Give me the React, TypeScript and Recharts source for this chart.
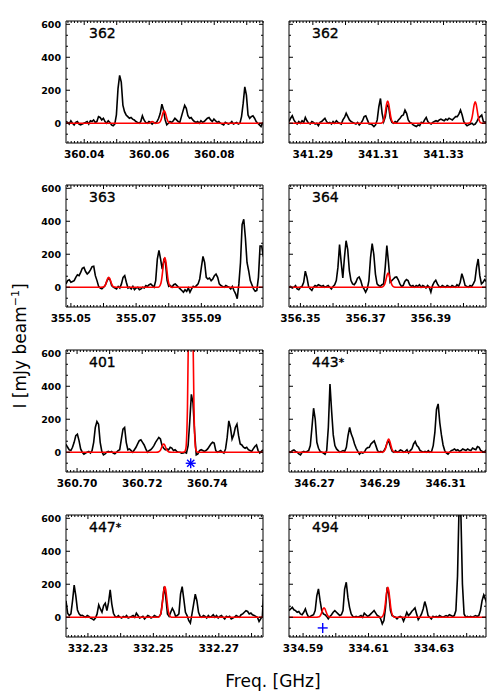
import React from "react";
import { ComposedChart, Line, Scatter, XAxis, YAxis } from "recharts";

// panel labels, row by row (left, right)
const panelLabels = ["362", "362", "363", "364", "401", "443*", "447*", "494"];

// frequency window of each panel [GHz]
const freqLo = [360.0344, 341.2827, 355.0485, 356.3465, 360.6966, 346.2622, 332.2233, 334.5857];
const freqHi = [360.095, 341.343, 355.1089, 356.4069, 360.7571, 346.3223, 332.2835, 334.6459];

// labelled frequency ticks
const freqLabels = [
  [360.04, 360.06, 360.08],
  [341.29, 341.31, 341.33],
  [355.05, 355.07, 355.09],
  [356.35, 356.37, 356.39],
  [360.7, 360.72, 360.74],
  [346.27, 346.29, 346.31],
  [332.23, 332.25, 332.27],
  [334.59, 334.61, 334.63],
];

const intensityLabels = [0, 200, 400, 600];

// channel width of the observed spectra [GHz]
const chanWidth = 0.0005;

// observed spectra [mJy/beam], one value per channel from freqLo
const spec1 = [
  10, 5, -5, 15, 0, -10, 5, 10, -5, -10,
  -5, 0, 5, 10, -5, 15, 10, 20, 5, 10,
  40, 35, 20, 30, 10, 0, 15, 5, -10, -15,
  -5, 50, 210, 290, 250, 110, 70, 50, 40, 30,
  35, 25, 20, 10, 5, 0, 10, 45, 20, 5,
  0, 10, 5, -5, 5, 0, 10, 30, 60, 115,
  80, 20, -10, 0, 10, 5, 15, 30, 20, 10,
  5, 40, 75, 108, 90, 45, 30, 35, 20, 10,
  5, 10, 0, 15, 5, 10, 20, 30, 35, 20,
  10, 25, 15, 5, 10, 0, -5, -10, 5, 0,
  -5, 0, 10, -5, 0, 5, -5, 0, 40, 120,
  220, 170, 50, 30, 40, 45, 30, 10, 0, -10,
  -20, 5,
];
const spec2 = [
  10, 30, 45, 20, 5, -5, 10, 0, 15, 5,
  35, 15, 0, -5, 10, 5, -5, 0, -15, 5,
  10, 20, 30, 10, 0, 5, -5, 10, 0, 15,
  5, 0, -5, 20, 35, 60, 40, 20, 10, 5,
  0, -5, 5, -10, 0, 15, 40, 45, 20, -5,
  -5, -10, -20, -10, 20, 100, 150, 60, 10, 40,
  110, 100, 30, 5, 0, 10, 5, 20, 30, 45,
  50, 80, 60, 20, 5, 0, -10, -15, -20, -10,
  -15, 5, 0, 20, 35, 10, 0, -5, 5, 10,
  15, 10, 20, 25, 20, 15, 25, 20, 30, 25,
  20, 30, 40, 40, 55, 80, 50, 10, -5, -15,
  -10, -5, 0, -10, -5, 10, 30, 40, 50, 10,
  5, 10,
];
const spec3 = [
  20, 40, 45, 30, 35, 40, 60, 75, 70, 90,
  115, 120, 95, 80, 90, 105, 125, 127, 70, 40,
  5, -5, -10, 0, 10, 35, 55, 45, 10, 0,
  -5, -10, 5, -5, 20, 60, 70, 30, -5, 0,
  -10, 5, -15, -5, 0, -15, -10, 0, -5, 10,
  5, 15, 20, 10, 0, 40, 170, 223, 170, 110,
  165, 150, 40, 5, 10, 0, 15, 20, 10, 0,
  -10, -20, -30, -15, -25, -5, -30, -10, 5, 0,
  10, 20, 50, 120, 187, 150, 60, 50, 55, 40,
  50, 70, 80, 60, 20, 10, 5, 0, 10, 5,
  0, -10, 5, -20, -40, -70, 20, 150, 380, 412,
  300, 150, 100, 40, 15, -10, -25, -20, 60, 250,
  250, 185,
];
const spec4 = [
  0, 5, -5, 0, 10, -10, -15, 0, 5, 30,
  97, 60, 5, -10, -20, 0, 10, 5, 15, 10,
  5, 10, 0, 5, 10, 0, -10, 5, 15, 40,
  120, 258, 150, 56, 180, 282, 230, 100, 40, 20,
  15, 30, 55, 62, 40, 5, -10, -30, -10, 40,
  180, 264, 200, 80, 20, 10, 5, 15, 20, 120,
  252, 150, 30, 40, 50, 60, 62, 45, 20, 5,
  10, 35, 46, 40, 15, 5, 10, 0, 10, 5,
  15, 0, 10, 5, -5, 10, 0, -30, 10, 30,
  42, 20, 5, 0, 10, 5, 0, 10, 5, 0,
  10, 5, 0, 15, 5, 30, 82, 50, 10, 5,
  0, 10, 5, 20, 40, 120, 171, 70, 20, 30,
  46, 35,
];
const spec5 = [
  48, 30, 14, 10, 30, 60, 100, 109, 70, 20,
  0, -12, -5, 0, 5, -5, 10, 60, 150, 186,
  170, 60, 5, -16, -10, 0, 5, 0, 5, -5,
  -10, 0, 10, 15, 80, 140, 150, 60, 15, 20,
  10, 0, 15, 30, 50, 70, 75, 60, 44, 20,
  0, 10, 15, 25, 40, 60, 75, 89, 80, 40,
  24, 15, 20, 14, 30, 25, 10, 15, 5, 0,
  0, -6, -5, 0, -5, 40, 185, 351, 300, 120,
  -16, -10, 10, 15, 10, 5, 10, 20, 35, 50,
  60, 55, 10, 0, 5, 10, 0, -5, 20, 90,
  190, 150, 80, 105, 150, 170, 100, 50, 44, 30,
  24, 30, 15, 10, 5, 20, 35, 44, 10, -5,
  5, 15,
];
const spec6 = [
  5, 0, 10, 14, 5, 0, -10, -16, 0, 5,
  0, 5, 10, 40, 150, 267, 200, 60, 24, 5,
  0, -5, -12, 10, 150, 414, 250, 105, 40, 20,
  10, 0, 5, 10, 5, 30, 100, 150, 110, 85,
  50, 24, 5, -12, 0, -5, 0, 20, 28, 30,
  50, 60, 69, 40, 10, 0, 5, 0, 10, 30,
  60, 65, 30, 5, 0, 10, 0, 5, 14, 10,
  0, 5, 14, -5, 10, 20, 50, 65, 40, 30,
  10, 5, 0, 5, 0, 10, 0, 5, 40, 120,
  260, 293, 180, 105, 44, 10, -5, -12, 0, 10,
  14, 20, 10, 15, 5, 10, 20, 15, 10, 20,
  14, 10, 25, 20, 15, 34, 30, 10, 5, 0,
  10, 5,
];
const spec7 = [
  100, 25, 10, 20, 100, 195, 130, 44, 20, 10,
  12, 5, 0, 10, 5, -5, -10, -16, -5, 20,
  75, 50, 30, 70, 85, 40, 90, 166, 80, 24,
  5, 0, 10, 0, -5, 5, 0, 10, -5, 0,
  5, 10, 0, 24, 10, -5, 0, 5, -10, 0,
  10, 5, -5, 0, 10, 5, 0, 5, 20, 100,
  186, 120, 20, 5, 30, 54, 35, 5, 10, 20,
  140, 186, 110, 30, 10, -20, -36, 20, 80, 140,
  100, 30, 5, 0, 10, 5, -5, 10, 0, 5,
  15, 0, 10, -5, 5, 10, 0, -10, 5, 0,
  5, -10, -5, 0, 10, 5, 0, 15, 20, 30,
  40, 35, 20, 25, 15, 10, 5, 0, -26, -10,
  5, 185,
];
const spec8 = [
  40, 50, 60, 45, 40, 30, 35, 20, 15, 30,
  50, 20, 0, 5, 10, 15, 40, 130, 172, 100,
  40, 20, 15, 5, -10, 5, 15, 30, 40, 30,
  20, 10, 15, 40, 170, 212, 120, 60, 20, 5,
  0, 5, 0, 5, 10, 0, 25, 15, 5, 10,
  20, 30, 40, 25, 10, 5, -10, -40, -20, 60,
  182, 140, 40, 10, 5, 0, -10, 0, 5, 0,
  -24, 0, 30, 10, 20, 35, 45, 56, 20, -15,
  0, 20, 50, 95, 60, 10, 0, -10, 5, 0,
  5, 0, 10, 5, 0, 5, 10, 5, 15, 10,
  5, 10, 40, 250, 700, 650, 200, 20, 0, 5,
  0, 5, 0, 5, 10, 5, 10, 40, 100, 135,
  110, 80,
];

// model spectra (red): [freq GHz, mJy/beam]
const model1 = [
  [360.0344, 0], [360.06, 0], [360.0609, 10], [360.0618, 0], [360.0628, 1], [360.0634, 10],
  [360.0637, 24], [360.064, 46], [360.0643, 66], [360.0646, 75], [360.0649, 66], [360.0652, 46],
  [360.0655, 24], [360.0658, 10], [360.0664, 1], [360.0672, 0], [360.095, 0],
];
const model2 = [
  [341.2827, 0], [341.3105, 0], [341.3111, 2], [341.3117, 18], [341.312, 44], [341.3123, 82],
  [341.3126, 119], [341.3129, 135], [341.3132, 119], [341.3135, 82], [341.3138, 44], [341.3141, 18],
  [341.3147, 2], [341.3155, 0], [341.3372, 0], [341.3379, 1], [341.3385, 18], [341.3388, 42],
  [341.3391, 79], [341.3394, 114], [341.3397, 130], [341.34, 114], [341.3403, 79], [341.3406, 42],
  [341.3409, 18], [341.3415, 1], [341.3422, 0], [341.343, 0],
];
const model3 = [
  [355.0485, 0], [355.0592, 0], [355.0598, 1], [355.0604, 8], [355.0607, 20], [355.061, 37],
  [355.0613, 53], [355.0616, 60], [355.0619, 53], [355.0622, 37], [355.0625, 20], [355.0628, 8],
  [355.0634, 1], [355.064, 0], [355.0764, 0], [355.077, 2], [355.0776, 24], [355.0779, 58],
  [355.0782, 110], [355.0785, 158], [355.0788, 180], [355.0791, 158], [355.0794, 110], [355.0797, 58],
  [355.08, 24], [355.0806, 2], [355.0812, 0], [355.1089, 0],
];
const model4 = [
  [356.3465, 0], [356.3745, 0], [356.3751, 1], [356.3757, 12], [356.376, 28], [356.3763, 52],
  [356.3766, 76], [356.3769, 86], [356.3772, 76], [356.3775, 52], [356.3778, 28], [356.3781, 12],
  [356.3787, 1], [356.3793, 0], [356.4069, 0],
];
const model5 = [
  [360.6966, 0], [360.7242, 0], [360.7248, 0.5], [360.7254, 7], [360.7257, 16], [360.726, 30],
  [360.7263, 44], [360.7266, 50], [360.7269, 44], [360.7272, 30], [360.7275, 16], [360.7278, 7],
  [360.7284, 0.5], [360.729, 0], [360.7324, 0], [360.7329, 1], [360.7334, 22], [360.7339, 270],
  [360.73415, 650], [360.7344, 1220], [360.73465, 1760], [360.7349, 2000], [360.73515, 1760],
  [360.7354, 1220], [360.73565, 650], [360.7359, 270], [360.7364, 22], [360.7369, 1],
  [360.7374, 0], [360.7571, 0],
];
const model6 = [
  [346.2622, 0], [346.2902, 0], [346.2908, 1], [346.2914, 11], [346.2917, 26], [346.292, 49],
  [346.2923, 70], [346.2926, 80], [346.2929, 70], [346.2932, 49], [346.2935, 26], [346.2938, 11],
  [346.2944, 1], [346.295, 0], [346.3223, 0],
];
const model7 = [
  [332.2233, 0], [332.2511, 0], [332.2517, 2], [332.2523, 25], [332.2526, 60], [332.2529, 113],
  [332.2532, 164], [332.2535, 186], [332.2538, 164], [332.2541, 113], [332.2544, 60], [332.2547, 25],
  [332.2553, 2], [332.2559, 0], [332.2835, 0],
];
const model8 = [
  [334.5857, 0], [334.594, 0], [334.5946, 1], [334.5952, 8], [334.5955, 19], [334.5958, 35],
  [334.5961, 50], [334.5964, 57], [334.5967, 50], [334.597, 35], [334.5973, 19], [334.5976, 8],
  [334.5982, 1], [334.5988, 0], [334.6135, 0], [334.6141, 2], [334.6147, 25], [334.615, 59],
  [334.6153, 111], [334.6156, 160], [334.6159, 182], [334.6162, 160], [334.6165, 111], [334.6168, 59],
  [334.6171, 25], [334.6177, 2], [334.6183, 0], [334.6459, 0],
];

// blue markers: panel index, [freq, mJy/beam], symbol
const markerPanel = [4, 7];
const markerPoint = [
  [360.7349, -67],
  [334.596, -65],
];
const markerSymbol = ["star", "plus"];

const spectra = [spec1, spec2, spec3, spec4, spec5, spec6, spec7, spec8];
const models = [model1, model2, model3, model4, model5, model6, model7, model8];

const FONT = "DejaVu Sans, Verdana, sans-serif";
const Y_DOMAIN = [-120, 620];
const PLOT_W = 197;
const PLOT_H = 122;
const LEFT_PAD = 40;
const colLeft = [66, 289];
const rowTop = [21, 185, 350, 515];

function freqTicks(lo: number, hi: number) {
  const out: number[] = [];
  for (let k = Math.ceil(lo * 1000 - 1e-6); k <= Math.floor(hi * 1000 + 1e-6); k++) out.push(k / 1000);
  return out;
}

const yTicks: number[] = [];
for (let k = -1; k <= 9; k++) yTicks.push((k * 200) / 3);

function isMajorFreq(v: number) {
  return Math.round(v * 1000) % 10 === 0;
}
function isMajorY(v: number) {
  return intensityLabels.some((m) => Math.abs(m - v) < 1e-6);
}

function StarShape(props: any) {
  const { cx, cy } = props;
  const r = 5;
  const d = r * 0.72;
  return (
    <g stroke="#0000ff" strokeWidth={1.4}>
      <line x1={cx - r} x2={cx + r} y1={cy} y2={cy} />
      <line x1={cx} x2={cx} y1={cy - r} y2={cy + r} />
      <line x1={cx - d} x2={cx + d} y1={cy - d} y2={cy + d} />
      <line x1={cx - d} x2={cx + d} y1={cy + d} y2={cy - d} />
    </g>
  );
}

function PlusShape(props: any) {
  const { cx, cy } = props;
  const r = 5;
  return (
    <g stroke="#0000ff" strokeWidth={1.4}>
      <line x1={cx - r} x2={cx + r} y1={cy} y2={cy} />
      <line x1={cx} x2={cx} y1={cy - r} y2={cy + r} />
    </g>
  );
}

function Panel({ idx }: { idx: number }) {
  const col = idx % 2;
  const row = Math.floor(idx / 2);
  const lo = freqLo[idx];
  const hi = freqHi[idx];
  const labels = freqLabels[idx];
  const xt = freqTicks(lo, hi);
  const showY = col === 0;

  const specData = spectra[idx].map((v, i) => ({ f: lo + i * chanWidth, v }));
  const modelData = models[idx].map(([f, v]) => ({ f, v }));
  const mi = markerPanel.indexOf(idx);
  const markerData = mi >= 0 ? [{ f: markerPoint[mi][0], v: markerPoint[mi][1] }] : null;

  const bottomTick = (p: any) => {
    const v = p.payload.value;
    const len = isMajorFreq(v) ? 4 : 2;
    const lab = labels.find((m) => Math.abs(m - v) < 1e-6);
    return (
      <g>
        <line x1={p.x} x2={p.x} y1={p.y} y2={p.y - len} stroke="#000" />
        {lab !== undefined && (
          <text x={p.x} y={p.y + 15} textAnchor="middle" fontSize={10.5} fontWeight="bold" fontFamily={FONT} fill="#000">
            {lab.toFixed(2)}
          </text>
        )}
      </g>
    );
  };
  const topTick = (p: any) => {
    const len = isMajorFreq(p.payload.value) ? 4 : 2;
    return <line x1={p.x} x2={p.x} y1={p.y} y2={p.y + len} stroke="#000" />;
  };
  const leftTick = (p: any) => {
    const v = p.payload.value;
    const len = isMajorY(v) ? 4 : 2;
    const lab = intensityLabels.find((m) => Math.abs(m - v) < 1e-6);
    return (
      <g>
        <line x1={p.x} x2={p.x + len} y1={p.y} y2={p.y} stroke="#000" />
        {showY && lab !== undefined && (
          <text x={p.x - 5} y={p.y + 3.5} textAnchor="end" fontSize={9.5} fontWeight="bold" fontFamily={FONT} fill="#000">
            {lab}
          </text>
        )}
      </g>
    );
  };
  const rightTick = (p: any) => {
    const len = isMajorY(p.payload.value) ? 4 : 2;
    return <line x1={p.x} x2={p.x - len} y1={p.y} y2={p.y} stroke="#000" />;
  };

  return (
    <div style={{ position: "absolute", left: colLeft[col] - LEFT_PAD, top: rowTop[row] - 5 }}>
      <ComposedChart width={LEFT_PAD + PLOT_W + 5} height={PLOT_H + 5 + 25} margin={{ top: 4, right: 4, bottom: 0, left: 0 }}>
        <XAxis
          xAxisId="b"
          dataKey="f"
          type="number"
          domain={[lo, hi]}
          allowDataOverflow
          ticks={xt}
          interval={0}
          height={25}
          tickSize={0}
          tickMargin={0}
          tickLine={false}
          axisLine={{ stroke: "#000" }}
          tick={bottomTick}
        />
        <XAxis
          xAxisId="t"
          orientation="top"
          dataKey="f"
          type="number"
          domain={[lo, hi]}
          allowDataOverflow
          ticks={xt}
          interval={0}
          height={1}
          tickSize={0}
          tickMargin={0}
          tickLine={false}
          axisLine={{ stroke: "#000" }}
          tick={topTick}
        />
        <YAxis
          yAxisId="l"
          type="number"
          domain={Y_DOMAIN}
          allowDataOverflow
          ticks={yTicks}
          interval={0}
          width={LEFT_PAD}
          tickSize={0}
          tickMargin={0}
          tickLine={false}
          axisLine={{ stroke: "#000" }}
          tick={leftTick}
        />
        <YAxis
          yAxisId="r"
          orientation="right"
          type="number"
          domain={Y_DOMAIN}
          allowDataOverflow
          ticks={yTicks}
          interval={0}
          width={1}
          tickSize={0}
          tickMargin={0}
          tickLine={false}
          axisLine={{ stroke: "#000" }}
          tick={rightTick}
        />
        <Line
          xAxisId="b"
          yAxisId="l"
          data={specData}
          dataKey="v"
          type="linear"
          stroke="#000"
          strokeWidth={1.6}
          dot={false}
          isAnimationActive={false}
        />
        <Line
          xAxisId="t"
          yAxisId="r"
          data={modelData}
          dataKey="v"
          type="monotone"
          stroke="#ff0000"
          strokeWidth={1.6}
          dot={false}
          isAnimationActive={false}
        />
        {markerData && (
          <Scatter
            xAxisId="b"
            yAxisId="l"
            data={markerData}
            dataKey="v"
            shape={markerSymbol[mi] === "star" ? StarShape : PlusShape}
            isAnimationActive={false}
          />
        )}
      </ComposedChart>
    </div>
  );
}

export default function App() {
  return (
    <div style={{ position: "absolute", left: 0, top: 0, width: 500, height: 700, background: "#fff" }}>
      {panelLabels.map((_, i) => (
        <Panel key={i} idx={i} />
      ))}
      <svg width={500} height={700} style={{ position: "absolute", left: 0, top: 0, pointerEvents: "none" }}>
        {panelLabels.map((lab, i) => {
          const x = colLeft[i % 2] + 23;
          const y = rowTop[Math.floor(i / 2)] + 16.5;
          const star = lab.endsWith("*");
          return (
            <text key={i} x={x} y={y} fontSize={14} fontFamily={FONT} fill="#000" stroke="#000" strokeWidth={0.35}>
              {star ? lab.slice(0, -1) : lab}
              {star && (
                <tspan fontSize={11} dy={-1}>
                  *
                </tspan>
              )}
            </text>
          );
        })}
        <text x={273} y={687} textAnchor="middle" fontSize={17} fontFamily={FONT} fill="#000">
          Freq. [GHz]
        </text>
        <text transform="translate(26,346) rotate(-90)" textAnchor="middle" fontSize={17} fontFamily={FONT} fill="#000">
          I [mJy beam
          <tspan fontSize={11} dy={-7}>
            −1
          </tspan>
          <tspan dy={7}>]</tspan>
        </text>
      </svg>
    </div>
  );
}
